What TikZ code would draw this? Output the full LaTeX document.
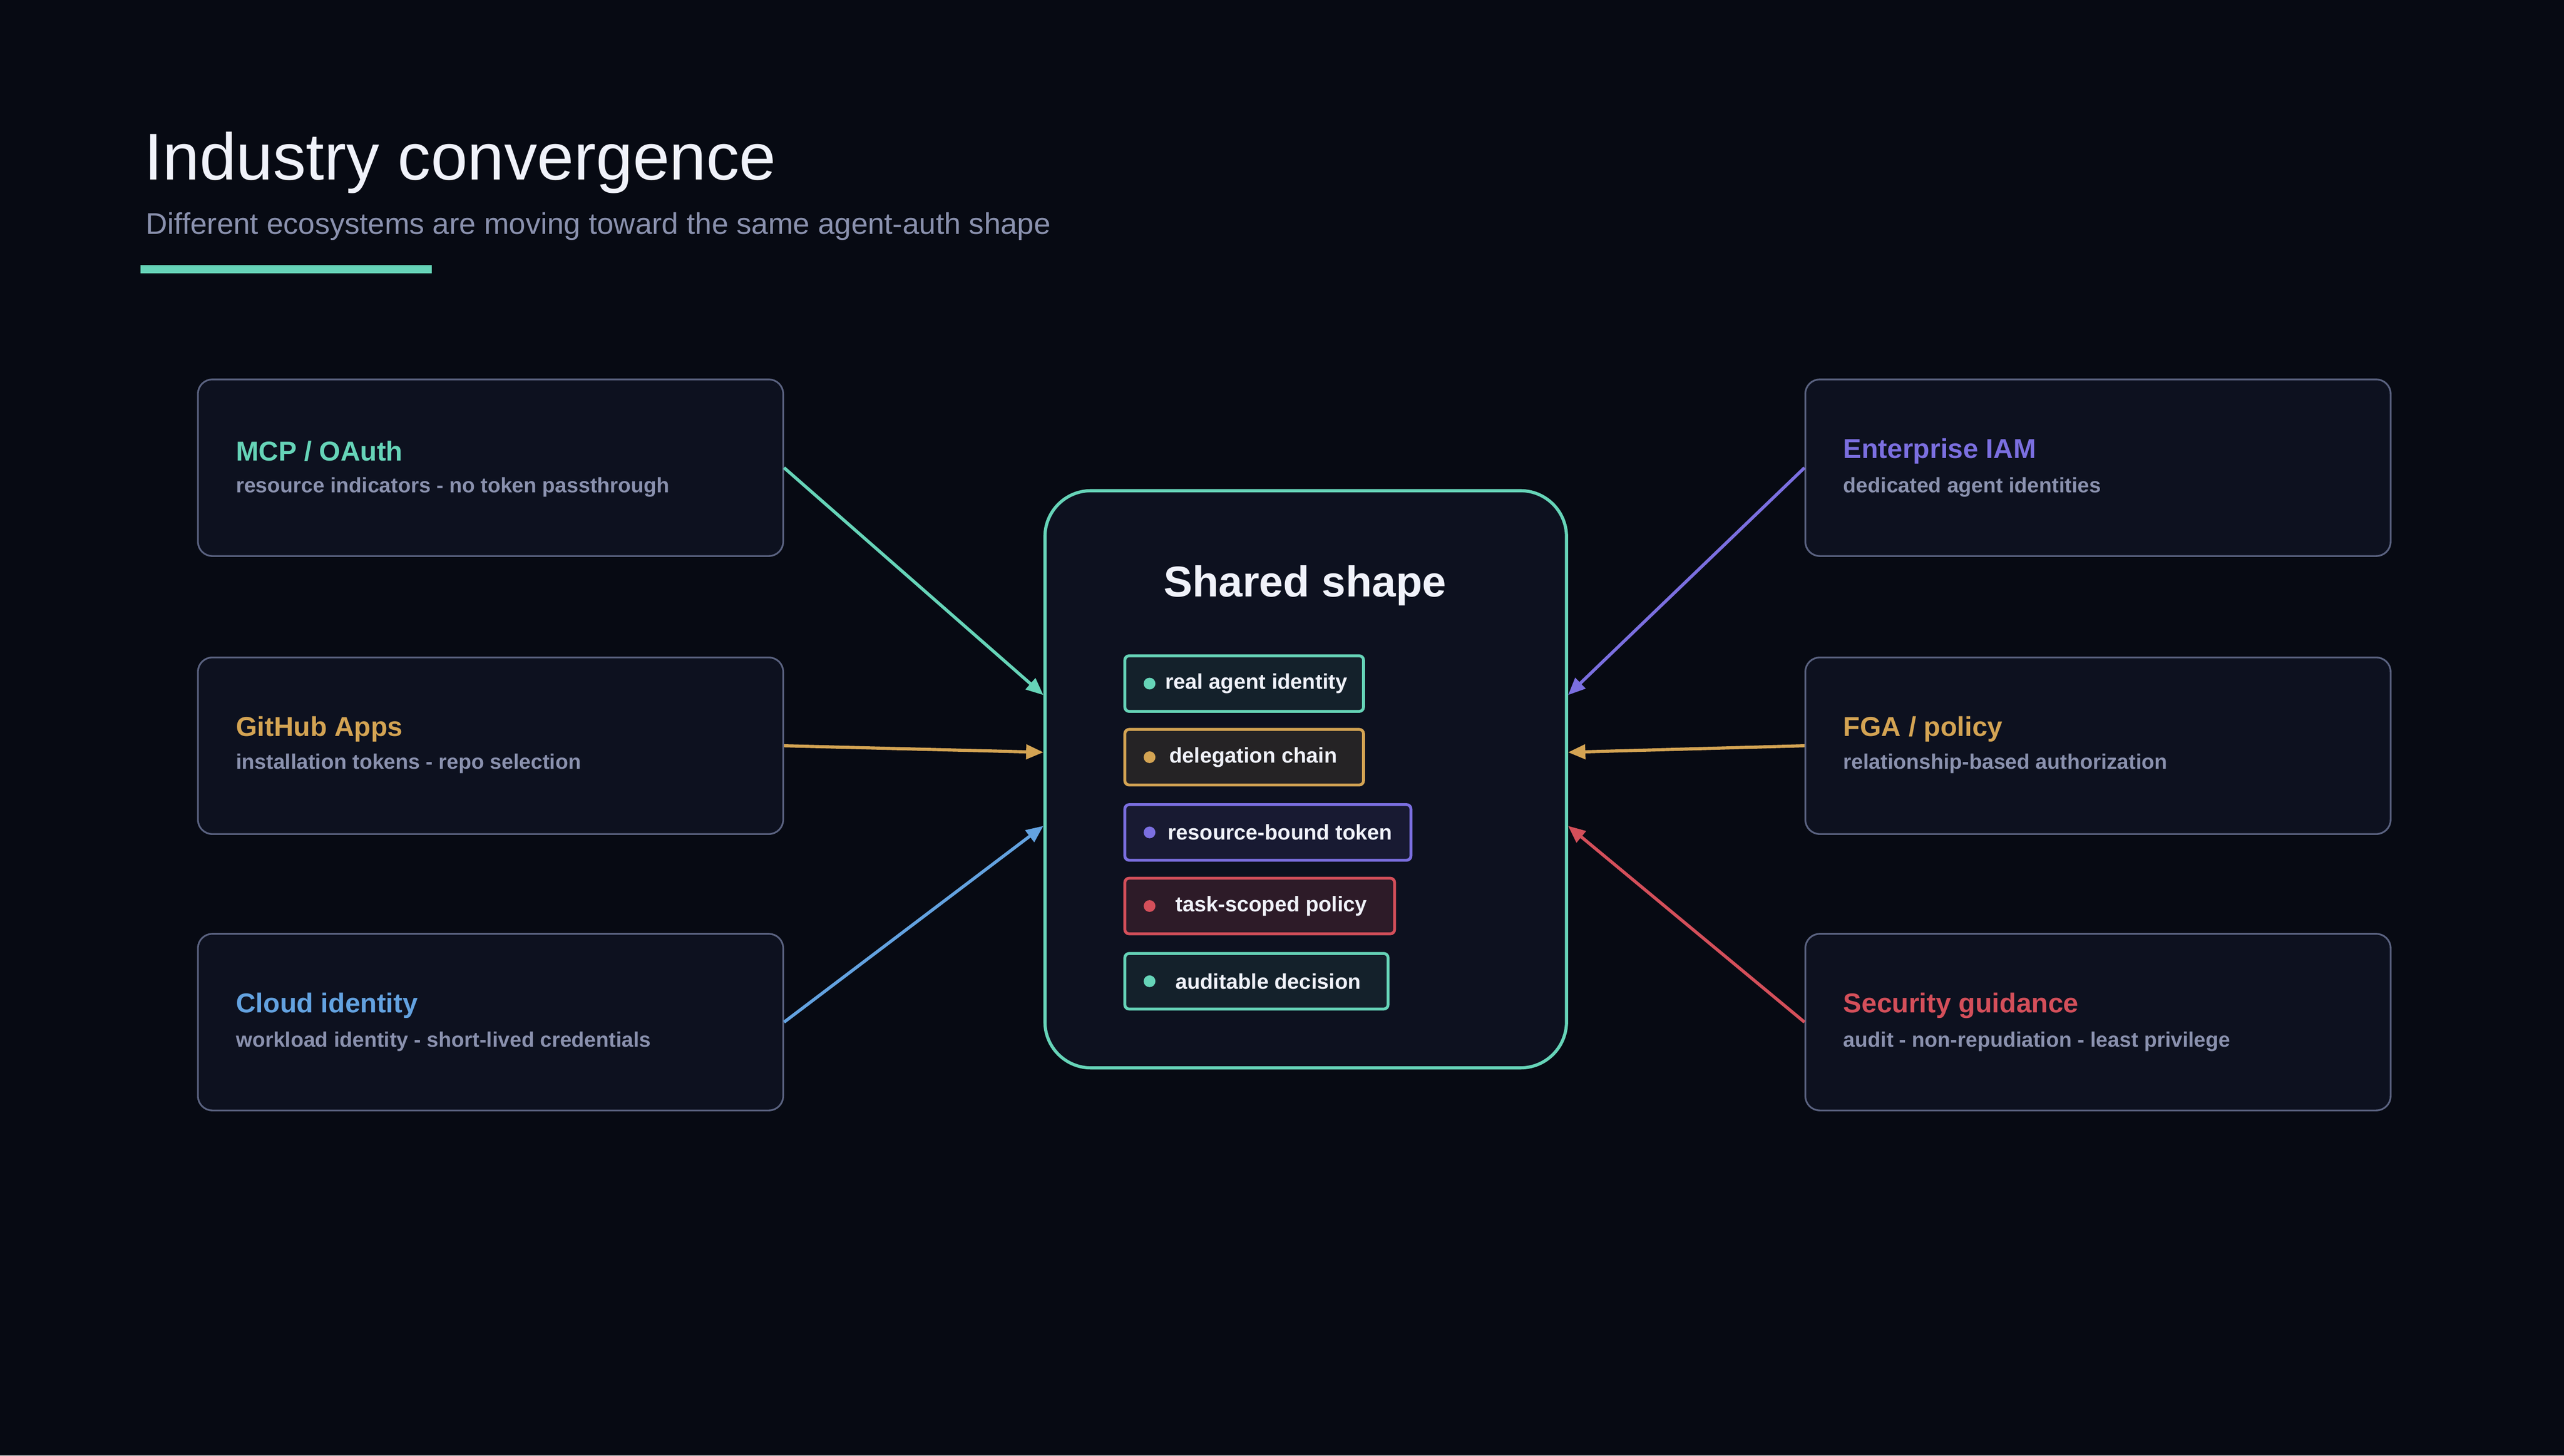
\documentclass[tikz,border=0pt]{standalone}
\usepackage{fontspec}
\setmainfont{Liberation Sans}
\usetikzlibrary{positioning, arrows.meta}
\definecolor{bgdark}{HTML}{070A13}
\definecolor{cardfill}{HTML}{0D111F}
\definecolor{cardline}{HTML}{5A6280}
\definecolor{teal}{HTML}{66D4B8}
\definecolor{gold}{HTML}{D4A453}
\definecolor{violet}{HTML}{7B6FE0}
\definecolor{rose}{HTML}{D44F5A}
\definecolor{sky}{HTML}{63A2E0}
\definecolor{mutedtext}{HTML}{8A91AE}
\definecolor{brighttext}{HTML}{F0F2FA}
\tikzstyle{arrow} = [line width=1.1pt,-{Triangle[length=6pt,width=5pt]}]

\begin{document}
\begin{tikzpicture}[x=0.02cm,y=-0.02cm]
                \tikzstyle{every node}=[font=\small]
                \tikzstyle{card} = [draw=cardline, fill=cardfill, rounded corners=5pt, line width=0.6pt, minimum width=7.16cm, minimum height=2.16cm, inner sep=0pt]
                \tikzstyle{cardtitle} = [anchor=west, inner sep=0pt, font=\fontsize{9.5}{11}\selectfont\bfseries]
                \tikzstyle{cardtext} = [anchor=west, inner sep=0pt, text=mutedtext, font=\fontsize{7.3}{9}\selectfont\bfseries]
                \tikzstyle{pill} = [draw, line width=1pt, rounded corners=1.5pt, minimum height=0.68cm, inner sep=0pt, anchor=west, text=brighttext, font=\fontsize{7.4}{9}\selectfont\bfseries]

                \fill[bgdark] (0,0) rectangle (1568,890);

                % heading
                \node[anchor=base west, inner sep=0pt, text=brighttext, font=\fontsize{23}{27}\selectfont](title) at (88,110) {Industry convergence};
                \node[anchor=base west, inner sep=0pt, text=mutedtext, font=\fontsize{10.4}{12}\selectfont](subtitle) at (89,143) {Different ecosystems are moving toward the same agent-auth shape};
                \fill[teal] (86,162) rectangle (264,167);

                % centre box
                \node[draw=teal, fill=cardfill, line width=1.1pt, rounded corners=16pt, minimum width=6.38cm, minimum height=7.06cm, inner sep=0pt](core) at (798.5,476.5) {};
                \node[text=brighttext, font=\fontsize{15}{18}\selectfont\bfseries](coretitle) at (798,358) {Shared shape};

                % pills
                \node[pill, draw=teal, fill=teal!8!cardfill, minimum width=2.92cm](p1) at (687,418) {\hspace{1.15em}real agent identity};
                \node[pill, draw=gold, fill=gold!12!cardfill, minimum width=2.92cm](p2) at (687,463) {\hspace{0.85em}delegation chain\hspace{1.6em}};
                \node[pill, draw=violet, fill=violet!10!cardfill, minimum width=3.5cm](p3) at (687,509) {\hspace{1.15em}resource-bound token};
                \node[pill, draw=rose, fill=rose!16!cardfill, minimum width=3.3cm](p4) at (687,554) {\hspace{1.1em}task-scoped policy\hspace{0.7em}};
                \node[pill, draw=teal, fill=teal!8!cardfill, minimum width=3.22cm](p5) at (687,600) {\hspace{1.1em}auditable decision};
                \foreach \c/\y in {teal/418, gold/463, violet/509, rose/554, teal/600}
                    \fill[\c] (703,\y) circle (3.6);

                % left cards
                \node[card](mcp) at (300,286) {};
                \node[cardtitle, text=teal] at (144,276) {MCP / OAuth};
                \node[cardtext] at (144,298) {resource indicators - no token passthrough};

                \node[card](gh) at (300,456) {};
                \node[cardtitle, text=gold] at (144,446) {GitHub Apps};
                \node[cardtext] at (144,467) {installation tokens - repo selection};

                \node[card](cloud) at (300,625) {};
                \node[cardtitle, text=sky] at (144,615) {Cloud identity};
                \node[cardtext] at (144,637) {workload identity - short-lived credentials};

                % right cards
                \node[card](iam) at (1283,286) {};
                \node[cardtitle, text=violet] at (1127,276) {Enterprise IAM};
                \node[cardtext] at (1127,298) {dedicated agent identities};

                \node[card](fga) at (1283,456) {};
                \node[cardtitle, text=gold] at (1127,446) {FGA / policy};
                \node[cardtext] at (1127,467) {relationship-based authorization};

                \node[card](sec) at (1283,625) {};
                \node[cardtitle, text=rose] at (1127,615) {Security guidance};
                \node[cardtext] at (1127,637) {audit - non-repudiation - least privilege};

                % connectors
                \draw[arrow, teal] (mcp.east) -- (core.west |- 0,425);
                \draw[arrow, gold] (gh.east) -- (core.west |- 0,460);
                \draw[arrow, sky] (cloud.east) -- (core.west |- 0,505);
                \draw[arrow, violet] (iam.west) -- (core.east |- 0,425);
                \draw[arrow, gold] (fga.west) -- (core.east |- 0,460);
                \draw[arrow, rose] (sec.west) -- (core.east |- 0,505);
\end{tikzpicture}
\end{document}
